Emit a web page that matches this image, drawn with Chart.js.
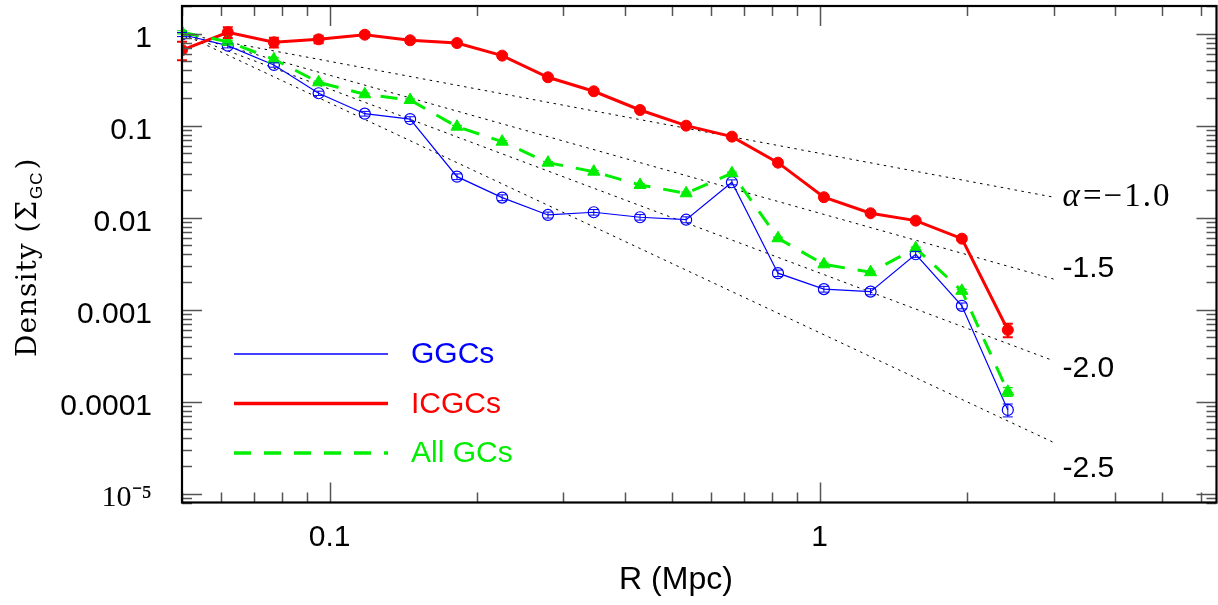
<!DOCTYPE html>
<html><head><meta charset="utf-8">
<script src="https://cdn.jsdelivr.net/npm/chart.js@4/dist/chart.umd.min.js"></script>
<style>html,body{margin:0;padding:0;background:#fff;overflow:hidden}</style>
</head><body>
<canvas id="c" width="1218" height="605"></canvas>
<script>
// ---- data ----
const radiusMpc = [0.050, 0.062, 0.077, 0.095, 0.118, 0.146, 0.182, 0.225, 0.279, 0.346, 0.430, 0.534, 0.662, 0.822, 1.02, 1.27, 1.57, 1.95, 2.42];
const ggcsDensity = [0.98, 0.741, 0.457, 0.225, 0.135, 0.118, 0.0279, 0.0165, 0.0107, 0.01145, 0.0101, 0.0095, 0.02425, 0.00249, 0.00167, 0.00157, 0.0040, 0.0011, 0.0000812];
const ggcsError = [0.05, 0.04, 0.025, 0.012, 0.008, 0.007, 0.002, 0.0012, 0.0008, 0.0008, 0.0007, 0.0007, 0.0015, 0.0002, 0.00012, 0.00012, 0.0003, 0.00008, 0.000013];
const icgcsDensity = [0.665, 1.036, 0.806, 0.869, 0.975, 0.848, 0.792, 0.577, 0.336, 0.2366, 0.148, 0.100, 0.076, 0.0396, 0.01667, 0.01117, 0.00928, 0.00591, 0.000601];
const icgcsError = [0.15, 0.14, 0.10, 0.08, 0.06, 0.05, 0.04, 0.03, 0.015, 0.01, 0.006, 0.004, 0.003, 0.0015, 0.0006, 0.0004, 0.0003, 0.0003, 0.0001];
const allDensity = [1.036, 0.818, 0.527, 0.296, 0.2196, 0.190, 0.0975, 0.067, 0.0396, 0.0316, 0.02266, 0.0184, 0.0304, 0.00597, 0.00311, 0.00255, 0.00465, 0.0016, 0.000128];
const allError = [0.04, 0.03, 0.02, 0.01, 0.007, 0.006, 0.003, 0.002, 0.0012, 0.0009, 0.0007, 0.0006, 0.0009, 0.00018, 0.0001, 0.00008, 0.00014, 0.00006, 0.000014];

// power-law reference lines: end points (x, y)
const refLineX = [0.05, 3];
const refLineA10 = [1, 0.0167];
const refLineA15 = [1, 0.00215];
const refLineA20 = [1, 0.000278];
const refLineA25 = [1, 0.000036];
const refLabels = ['α=−1.0', '-1.5', '-2.0', '-2.5'];
const refLabelX = [3.13, 3.13, 3.13, 3.13];
const refLabelY = [0.0168, 0.00277, 0.000227, 0.0000185];

const xMajorTicks = [0.1, 1];
const xMajorLabels = ['0.1', '1'];
const yMajorTicks = [0.00001, 0.0001, 0.001, 0.01, 0.1, 1];
const yMajorLabels = ['10⁻⁵', '0.0001', '0.001', '0.01', '0.1', '1'];

const seriesNames = ['GGCs', 'ICGCs', 'All GCs'];
const xTitle = 'R (Mpc)';

// ---- helpers ----
function logTicks(min, max) {
  const out = [];
  for (let k = Math.floor(Math.log10(min)); k <= Math.ceil(Math.log10(max)); k++) {
    for (let m = 1; m <= 9; m++) {
      const v = +(m * Math.pow(10, k)).toPrecision(6);
      if (v >= min * 0.9999 && v <= max * 1.0001) out.push({value: v, major: m === 1});
    }
  }
  return out;
}
function findLabel(v, vals, labels) {
  for (let i = 0; i < vals.length; i++) if (Math.abs(v / vals[i] - 1) < 1e-6) return labels[i];
  return '';
}
const pts = (xs, ys) => xs.map((x, i) => ({x, y: ys[i]}));

const BLUE = '#0000ff', RED = '#ff0000', GREEN = '#00ee00';
const X_MIN = 0.05, X_MAX = 6.45, Y_MIN = 8e-6, Y_MAX = 2;

const refStyle = {borderColor: '#000', borderWidth: 1, borderDash: [2.5, 4.5], pointRadius: 0, showLine: true, fill: false, order: 10, isRef: true};

const datasets = [
  Object.assign({label: 'ref10', data: pts(refLineX, refLineA10)}, refStyle),
  Object.assign({label: 'ref15', data: pts(refLineX, refLineA15)}, refStyle),
  Object.assign({label: 'ref20', data: pts(refLineX, refLineA20)}, refStyle),
  Object.assign({label: 'ref25', data: pts(refLineX, refLineA25)}, refStyle),
  {label: seriesNames[0], data: pts(radiusMpc, ggcsDensity), errors: ggcsError, showLine: true,
   borderColor: BLUE, borderWidth: 1.2, pointStyle: 'circle', pointRadius: 5.5,
   pointBackgroundColor: 'rgba(0,0,0,0)', pointBorderColor: BLUE, pointBorderWidth: 1.2, order: 3, capW: 5, errW: 1},
  {label: seriesNames[1], data: pts(radiusMpc, icgcsDensity), errors: icgcsError, showLine: true,
   borderColor: RED, borderWidth: 3, pointStyle: 'circle', pointRadius: 5.5,
   pointBackgroundColor: RED, pointBorderColor: RED, pointBorderWidth: 1, order: 2, capW: 5, errW: 2},
  {label: seriesNames[2], data: pts(radiusMpc, allDensity), errors: allError, showLine: true,
   borderColor: GREEN, borderWidth: 3, borderDash: [17, 13], pointStyle: 'triangle', pointRadius: 7,
   pointBackgroundColor: GREEN, pointBorderColor: GREEN, pointBorderWidth: 1, order: 1, capW: 5, errW: 1.2}
];

const overlay = {
  id: 'overlay',
  afterDatasetsDraw(chart) {
    const ctx = chart.ctx, xs = chart.scales.x, ys = chart.scales.y;
    // error bars
    chart.data.datasets.forEach((ds) => {
      if (!ds.errors) return;
      ctx.save();
      ctx.strokeStyle = ds.borderColor; ctx.lineWidth = ds.errW; ctx.setLineDash([]);
      ds.data.forEach((p, i) => {
        const e = ds.errors[i];
        const px = xs.getPixelForValue(p.x);
        const y1 = ys.getPixelForValue(p.y + e);
        const y2 = ys.getPixelForValue(Math.max(p.y - e, p.y * 0.05));
        ctx.beginPath();
        ctx.moveTo(px, y1); ctx.lineTo(px, y2);
        ctx.moveTo(px - ds.capW, y1); ctx.lineTo(px + ds.capW, y1);
        ctx.moveTo(px - ds.capW, y2); ctx.lineTo(px + ds.capW, y2);
        ctx.stroke();
      });
      ctx.restore();
    });
    // reference line labels
    ctx.save();
    ctx.fillStyle = '#000'; ctx.textBaseline = 'middle'; ctx.textAlign = 'left';
    refLabels.forEach((t, i) => {
      const px = xs.getPixelForValue(refLabelX[i]);
      const py = ys.getPixelForValue(refLabelY[i]);
      if (i === 0) {
        ctx.font = 'italic 33px "Liberation Serif"';
        ctx.fillText('α', px, py);
        const w = ctx.measureText('α').width;
        ctx.font = '33px "Liberation Serif"';
        ctx.letterSpacing = '2px';
        ctx.fillText(t.slice(1), px + w + 3, py);
        ctx.letterSpacing = '0px';
      } else {
        ctx.font = '30px "Liberation Sans"';
        ctx.fillText(t, px, py);
      }
    });
    ctx.restore();
  },
  afterDraw(chart) {
    const ctx = chart.ctx, xs = chart.scales.x, ys = chart.scales.y, a = chart.chartArea;
    ctx.save();
    // inward tick marks on all four sides
    ctx.strokeStyle = '#555'; ctx.lineWidth = 1.5; ctx.setLineDash([]);
    ctx.beginPath();
    xs.ticks.forEach(t => {
      const px = Math.round(xs.getPixelForValue(t.value)) + 0.5;
      const L = t.major ? 20 : 10;
      ctx.moveTo(px, a.bottom); ctx.lineTo(px, a.bottom - L);
      ctx.moveTo(px, a.top); ctx.lineTo(px, a.top + L);
    });
    ys.ticks.forEach(t => {
      const py = Math.round(ys.getPixelForValue(t.value)) + 0.5;
      const L = t.major ? 20 : 10;
      ctx.moveTo(a.left, py); ctx.lineTo(a.left + L, py);
      ctx.moveTo(a.right, py); ctx.lineTo(a.right - L, py);
    });
    ctx.stroke();
    // frame
    ctx.strokeStyle = '#000'; ctx.lineWidth = 2.2;
    ctx.strokeRect(a.left, a.top, a.right - a.left, a.bottom - a.top);
    // legend
    const dsList = chart.data.datasets.filter(d => !d.isRef);
    const legY = [354, 403.5, 453];
    dsList.forEach((ds, i) => {
      ctx.strokeStyle = ds.borderColor;
      ctx.lineWidth = i === 0 ? 1.3 : 3.5;
      ctx.setLineDash(ds.borderDash || []);
      ctx.beginPath(); ctx.moveTo(234, legY[i]); ctx.lineTo(388, legY[i]); ctx.stroke();
      ctx.setLineDash([]);
      ctx.fillStyle = ds.borderColor;
      ctx.font = '30px "Liberation Sans"';
      ctx.textBaseline = 'middle'; ctx.textAlign = 'left';
      ctx.fillText(ds.label, 411, legY[i] + 1);
    });
    // x-axis title
    ctx.fillStyle = '#000'; ctx.font = '32px "Liberation Sans"';
    ctx.textAlign = 'center'; ctx.textBaseline = 'middle';
    ctx.fillText(xTitle, 676, 580);
    // y-axis title with subscript
    ctx.translate(36, 357);
    ctx.rotate(-Math.PI / 2);
    ctx.fillStyle = '#000'; ctx.textBaseline = 'alphabetic'; ctx.textAlign = 'left';
    ctx.font = '28px "DejaVu Serif"';
    ctx.letterSpacing = '1px';
    const main = 'Density (Σ';
    ctx.fillText(main, 0, 0);
    let w = ctx.measureText(main).width;
    ctx.font = '17px "Liberation Sans"';
    ctx.fillText('GC', w + 1, 6);
    w += ctx.measureText('GC').width + 3;
    ctx.font = '28px "DejaVu Serif"';
    ctx.fillText(')', w, 0);
    ctx.restore();
  }
};

new Chart(document.getElementById('c'), {
  type: 'scatter',
  data: {datasets},
  options: {
    responsive: false, animation: false, devicePixelRatio: 1,
    layout: {autoPadding: false, padding: {left: 0, right: 1.5, top: 6, bottom: 0}},
    elements: {line: {tension: 0}},
    plugins: {legend: {display: false}, tooltip: {enabled: false}},
    scales: {
      x: {
        type: 'logarithmic', position: 'bottom', min: X_MIN, max: X_MAX,
        afterBuildTicks: s => { s.ticks = logTicks(X_MIN, X_MAX); },
        afterFit: s => { s.height = 102.5; s.paddingLeft = 0; s.paddingRight = 0; },
        grid: {display: false, drawTicks: false}, border: {display: false},
        ticks: {autoSkip: false, maxRotation: 0, minRotation: 0, padding: 17, color: '#000',
          font: {family: 'Liberation Sans', size: 30},
          callback: v => findLabel(v, xMajorTicks, xMajorLabels)},
        title: {display: false}
      },
      y: {
        type: 'logarithmic', position: 'left', min: Y_MIN, max: Y_MAX,
        afterBuildTicks: s => { s.ticks = logTicks(Y_MIN, Y_MAX); },
        afterFit: s => { s.width = 182; s.paddingTop = 0; s.paddingBottom = 0; },
        grid: {display: false, drawTicks: false}, border: {display: false},
        ticks: {autoSkip: false, padding: 30, labelOffset: 5, color: '#000',
          font: c => (c.tick && Math.abs(c.tick.value / 1e-5 - 1) < 1e-6) ? {family: 'Liberation Serif', size: 30} : {family: 'Liberation Sans', size: 30},
          callback: v => findLabel(v, yMajorTicks, yMajorLabels)}
      }
    }
  },
  plugins: [overlay]
});
</script>
</body></html>
